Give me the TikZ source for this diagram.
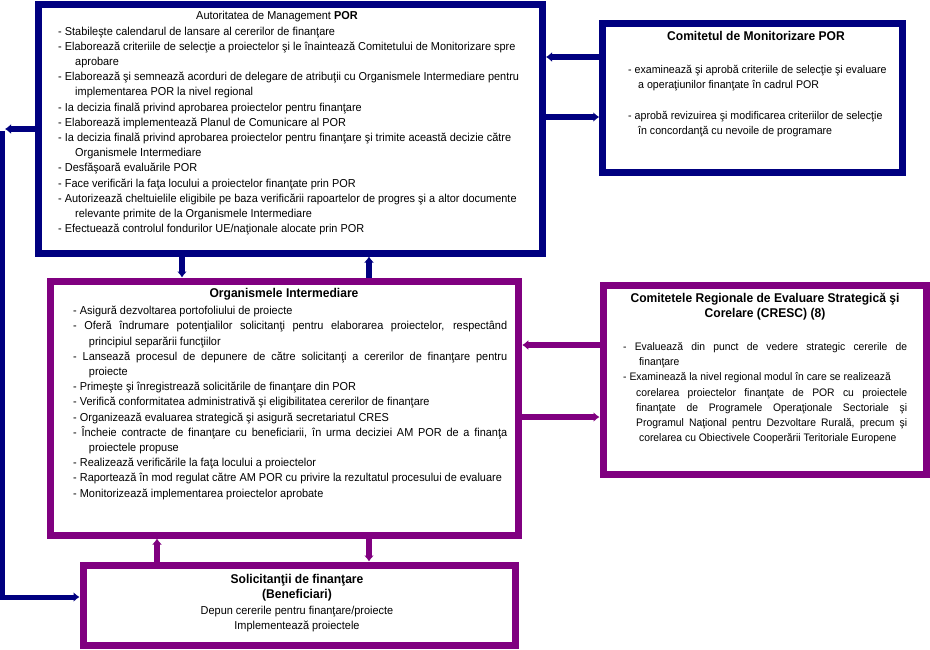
\documentclass[tikz,border=0pt]{standalone}
\usepackage{fontspec}
\setmainfont{Liberation Sans}[FakeStretch=0.95]
\usetikzlibrary{arrows.meta}
\definecolor{amnavy}{RGB}{0,0,128}
\definecolor{oipurple}{RGB}{128,0,128}
\newcommand{\cont}[1][1.2em]{\hspace*{#1}}
\newcommand{\jline}[2]{\makebox[#1][s]{#2}}

\begin{document}
\begin{tikzpicture}[x=1pt,y=-1pt,>={Latex[length=6pt,width=10pt]},
  every node/.style={font=\fontsize{11.5}{15.2}\selectfont},
  navybox/.style={draw=amnavy,line width=7pt,fill=white,inner sep=0pt},
  purplebox/.style={draw=oipurple,line width=7pt,fill=white,inner sep=0pt},
  navyarrow/.style={->,draw=amnavy,line width=6pt},
  purplearrow/.style={->,draw=oipurple,line width=6pt},
  boxtitle/.style={font=\fontsize{12.7}{15.2}\selectfont\bfseries,align=center},
  boxtext/.style={anchor=north west,align=left,inner sep=0pt}]
  \useasboundingbox (0,0) rectangle (930,649);

  % boxes
  \node[navybox,minimum width=504pt,minimum height=249pt] (am) at (290.5,128.5) {};
  \node[navybox,minimum width=300pt,minimum height=149pt] (cm) at (752.75,97.5) {};
  \node[purplebox,minimum width=468pt,minimum height=254pt] (oi) at (284.75,408) {};
  \node[purplebox,minimum width=323pt,minimum height=189pt] (cresc) at (764.5,379.5) {};
  \node[purplebox,minimum width=432pt,minimum height=80pt] (sol) at (299,605) {};

  % connectors
  \draw[navyarrow] (cm.west |- 0,57) -- (am.east |- 0,57);
  \draw[navyarrow] (am.east |- 0,117) -- (cm.west |- 0,117);
  \draw[navyarrow] (am.south -| 182,0) -- (oi.north -| 182,0);
  \draw[navyarrow] (oi.north -| 369,0) -- (am.south -| 369,0);
  \draw[purplearrow] (cresc.west |- 0,345) -- (oi.east |- 0,345);
  \draw[purplearrow] (oi.east |- 0,417) -- (cresc.west |- 0,417);
  \draw[purplearrow] (sol.north -| 157,0) -- (oi.south -| 157,0);
  \draw[purplearrow] (oi.south -| 369,0) -- (sol.north -| 369,0);
  \coordinate (fbtop) at (5,129);
  \coordinate (fbcorner) at (2.5,131);
  \coordinate (fbbot) at (2.5,597);
  \draw[navyarrow] (am.west |- fbtop) -- (fbtop);
  \draw[navyarrow,line width=5pt] (fbcorner) -- (fbbot) -- (sol.west |- fbbot);

  % texts
  \node (amtitle) at (277,16.5) {Autoritatea de Management \textbf{POR}};
  \node[boxtext] (amtext) at (58,26.5) {- Stabileşte calendarul de lansare al cererilor de finanţare\\
    - Elaborează criteriile de selecţie a proiectelor şi le înaintează Comitetului de Monitorizare spre\\
    \cont[14pt] aprobare\\
    - Elaborează şi semnează acorduri de delegare de atribuţii cu Organismele Intermediare pentru\\
    \cont[14pt] implementarea POR la nivel regional\\
    - Ia decizia finală privind aprobarea proiectelor pentru finanţare\\
    - Elaborează implementează Planul de Comunicare al POR\\
    - Ia decizia finală privind aprobarea proiectelor pentru finanţare şi trimite această decizie către\\
    \cont[14pt] Organismele Intermediare\\
    - Desfăşoară evaluările POR\\
    - Face verificări la faţa locului a proiectelor finanţate prin POR\\
    - Autorizează cheltuielile eligibile pe baza verificării rapoartelor de progres şi a altor documente\\
    \cont[14pt] relevante primite de la Organismele Intermediare\\
    - Efectuează controlul fondurilor UE/naţionale alocate prin POR};

  \node[boxtitle] (cmtitle) at (756,36) {Comitetul de Monitorizare POR};
  \node[boxtext,font=\fontsize{11.2}{15.3}\selectfont] (cmtext) at (628,65) {- examinează şi aprobă criteriile de selecţie şi evaluare\\
    \cont[7pt] a operaţiunilor finanţate în cadrul POR\\[15.3pt]
    - aprobă revizuirea şi modificarea criteriilor de  selecţie\\
    \cont[7pt] în concordanţă cu nevoile de programare};

  \node[boxtitle] (oititle) at (284,294) {Organismele Intermediare};
  \node[boxtext] (oitext) at (73,306) {- Asigură dezvoltarea portofoliului de proiecte\\
    \jline{434pt}{- Oferă îndrumare potenţialilor solicitanţi pentru elaborarea proiectelor, respectând}\\
    \cont[12.7pt] principiul separării funcţiilor\\
    \jline{434pt}{- Lansează procesul de depunere de către solicitanţi a cererilor de finanţare pentru}\\
    \cont[12.7pt] proiecte\\
    - Primeşte şi înregistrează solicitările de finanţare din POR\\
    - Verifică conformitatea administrativă şi eligibilitatea cererilor de finanţare\\
    - Organizează evaluarea strategică şi asigură secretariatul CRES\\
    \jline{434pt}{- Încheie contracte de finanţare cu beneficiarii, în urma deciziei AM POR de a finanţa}\\
    \cont[12.7pt] proiectele propuse\\
    - Realizează verificările la faţa locului a proiectelor\\
    - Raportează în mod regulat către AM POR cu privire la rezultatul procesului de evaluare\\
    - Monitorizează implementarea proiectelor aprobate};

  \node[boxtitle] (cresctitle) at (765,306.5) {Comitetele Regionale de Evaluare Strategică şi\\Corelare (CRESC) (8)};
  \node[boxtext,font=\fontsize{10.9}{15.1}\selectfont] (cresctext) at (623,342.5) {\jline{284pt}{- Evaluează din punct de vedere strategic cererile de}\\
    \cont[13pt] finanţare\\
    - Examinează la nivel regional modul în care se realizează\\
    \cont[13pt]\jline{271pt}{corelarea proiectelor finanţate de POR cu proiectele}\\
    \cont[13pt]\jline{271pt}{finanţate de Programele Operaţionale Sectoriale şi}\\
    \cont[13pt]\jline{271pt}{Programul Naţional pentru Dezvoltare Rurală, precum şi}\\
    \cont[13pt] corelarea cu Obiectivele Cooperării Teritoriale Europene};

  \node[align=center] (soltext) at (297,603) {\textbf{\fontsize{12.7}{15.2}\selectfont Solicitanţii de finanţare}\\
    \textbf{\fontsize{12.7}{15.2}\selectfont (Beneficiari)}\\
    Depun cererile pentru finanţare/proiecte\\Implementează proiectele};
\end{tikzpicture}
\end{document}
